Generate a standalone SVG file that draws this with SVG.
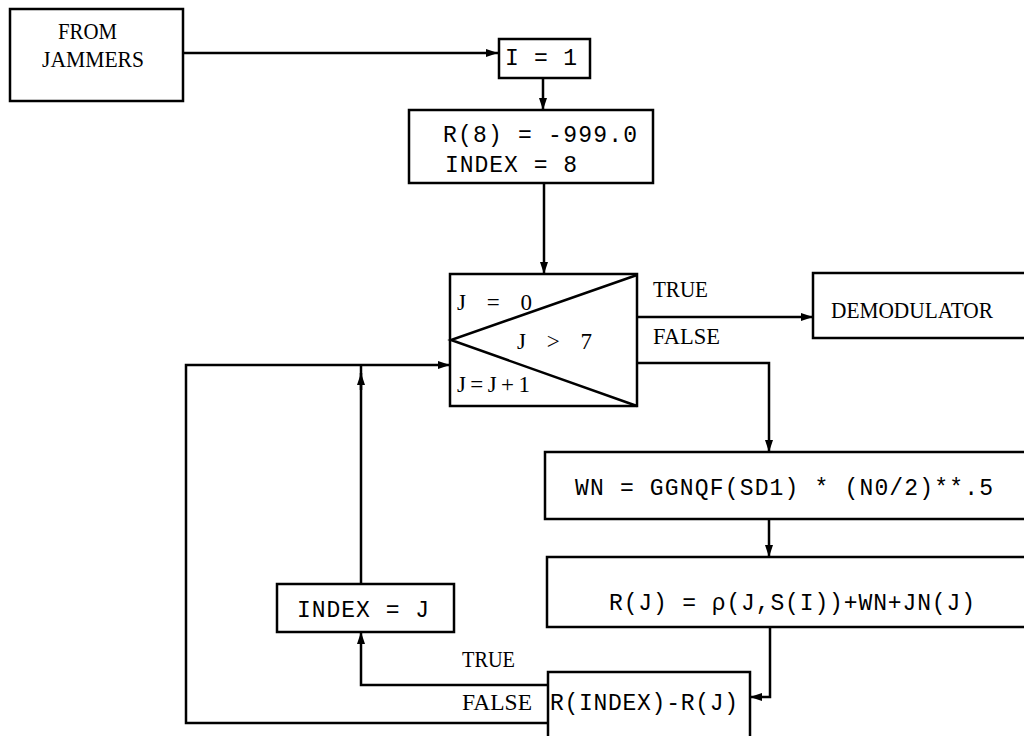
<svg xmlns="http://www.w3.org/2000/svg" width="1024" height="736" viewBox="0 0 1024 736">
<style>
.box{fill:none;stroke:#000;stroke-width:2.5}
.ln{fill:none;stroke:#000;stroke-width:2.5}
.s{font-family:"Liberation Serif",serif;font-size:23px;fill:#000}
.m{font-family:"Liberation Mono",monospace;font-size:23px;fill:#000}
</style>
<defs>
<marker id="ar" markerUnits="userSpaceOnUse" markerWidth="14" markerHeight="10" refX="12" refY="5" orient="auto">
<path d="M0,1 L12,5 L0,9 Z" fill="#000"/>
</marker>
</defs>
<rect width="1024" height="736" fill="#fff"/>
<g id="from-jammers">
<rect class="box" x="10" y="9" width="173" height="92"/>
<text class="s" x="58" y="39" textLength="59" lengthAdjust="spacingAndGlyphs">FROM</text>
<text class="s" x="42" y="67" textLength="102" lengthAdjust="spacingAndGlyphs">JAMMERS</text>
</g>
<g id="i-eq-1">
<rect class="box" x="499" y="39" width="91" height="39"/>
<text class="m" x="505" y="65" textLength="72" lengthAdjust="spacing">I = 1</text>
</g>
<g id="init">
<rect class="box" x="409" y="110" width="244" height="73"/>
<text class="m" x="443" y="142" textLength="194" lengthAdjust="spacing">R(8) = -999.0</text>
<text class="m" x="445" y="172" textLength="132" lengthAdjust="spacing">INDEX = 8</text>
</g>
<g id="loop-j">
<rect class="box" x="450" y="274" width="187" height="132"/>
<path class="ln" d="M637,275 L451,340 L637,406"/>
<text class="s" x="457" y="310" textLength="75" lengthAdjust="spacing">J = 0</text>
<text class="s" x="517" y="349" textLength="75" lengthAdjust="spacing">J &gt; 7</text>
<text class="s" x="457" y="392" textLength="73" lengthAdjust="spacing">J=J+1</text>
</g>
<g id="demodulator">
<rect class="box" x="813" y="273" width="220" height="65"/>
<text class="s" x="831" y="318" textLength="162" lengthAdjust="spacingAndGlyphs">DEMODULATOR</text>
</g>
<g id="wn">
<rect class="box" x="545" y="452" width="490" height="67"/>
<text class="m" x="575" y="495" textLength="418" lengthAdjust="spacing">WN = GGNQF(SD1) * (N0/2)**.5</text>
</g>
<g id="rj">
<rect class="box" x="547" y="557" width="490" height="70"/>
<text class="m" x="609" y="610" textLength="366" lengthAdjust="spacing">R(J) = ρ(J,S(I))+WN+JN(J)</text>
</g>
<g id="index-j">
<rect class="box" x="277" y="584" width="177" height="48"/>
<text class="m" x="297" y="617" textLength="132" lengthAdjust="spacing">INDEX = J</text>
</g>
<g id="compare">
<rect class="box" x="548" y="672" width="202" height="80"/>
<text class="m" x="550" y="710" textLength="188" lengthAdjust="spacing">R(INDEX)-R(J)</text>
</g>
<g id="connectors">
<path class="ln" d="M183,53 L498,53" marker-end="url(#ar)"/>
<path class="ln" d="M543,78 L543,110" marker-end="url(#ar)"/>
<path class="ln" d="M544,183 L544,274" marker-end="url(#ar)"/>
<path class="ln" d="M637,317 L813,317" marker-end="url(#ar)"/>
<path class="ln" d="M637,363 L769,363 L769,452" marker-end="url(#ar)"/>
<path class="ln" d="M769,519 L769,557" marker-end="url(#ar)"/>
<path class="ln" d="M770,627 L770,697 L750,697" marker-end="url(#ar)"/>
<path class="ln" d="M548,685 L361,685 L361,632" marker-end="url(#ar)"/>
<path class="ln" d="M361,584 L361,365"/>
<path class="ln" d="M361,390 L361,373" marker-end="url(#ar)"/>
<path class="ln" d="M548,723 L186,723 L186,365 L450,365" marker-end="url(#ar)"/>
<text class="s" x="653" y="297" textLength="55" lengthAdjust="spacingAndGlyphs">TRUE</text>
<text class="s" x="653" y="344" textLength="67" lengthAdjust="spacingAndGlyphs">FALSE</text>
<text class="s" x="462" y="667" textLength="53" lengthAdjust="spacingAndGlyphs">TRUE</text>
<text class="s" x="462" y="710" textLength="70" lengthAdjust="spacingAndGlyphs">FALSE</text>
</g>
</svg>
